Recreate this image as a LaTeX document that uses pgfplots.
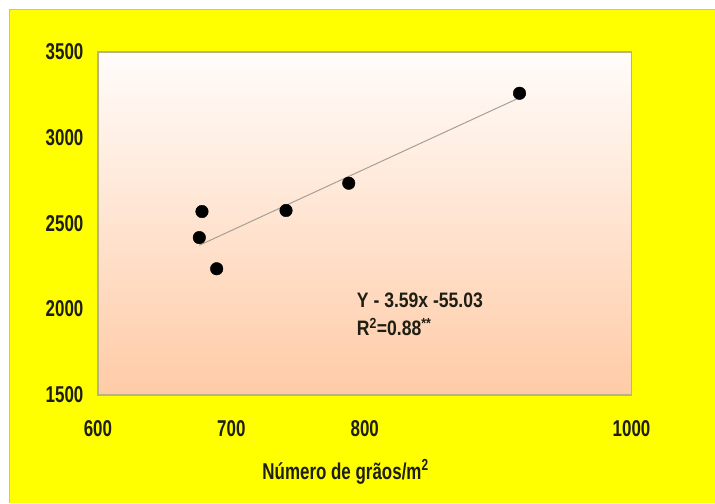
\documentclass[border=0pt]{standalone}
\usepackage{pgfplots}
\pgfplotsset{compat=1.18}
\usepackage{fontspec}
\setmainfont{Liberation Sans}
\newfontfamily\condfont{Liberation Sans}[FakeStretch=0.74]
\newfontfamily\annfont{Liberation Sans}[FakeStretch=0.84]
\definecolor{bgyellow}{RGB}{255,255,0}
\definecolor{topc}{RGB}{255,252,250}
\definecolor{botc}{RGB}{255,203,166}
\definecolor{framec}{RGB}{185,178,130}
\definecolor{txt}{RGB}{30,30,20}
\begin{document}
\begin{tikzpicture}[x=1bp,y=1bp]
\fill[white] (0,0) rectangle (715,503);
\fill[bgyellow] (10,0) rectangle (715,493);
\draw[color={rgb,255:red,215;green,215;blue,0}, line width=1bp] (10,0) -- (10,493) -- (715,493);
\begin{axis}[
  at={(98bp,108bp)}, anchor=south west,
  scale only axis, width=534bp, height=343bp,
  xmin=600, xmax=1000, ymin=1500, ymax=3500,
  xtick={600,700,800,1000}, ytick={1500,2000,2500,3000,3500},
  major tick length=0pt, minor tick num=0,
  axis line style={draw=framec, line width=1.8bp},
  axis background/.style={top color=topc, bottom color=botc},
  /pgf/number format/assume math mode=true,
  /pgf/number format/set thousands separator={},
  tick label style={font=\condfont\bfseries\fontsize{23}{27}\selectfont, text=txt},
  yticklabel style={xshift=-11bp},
  xticklabel style={yshift=-22bp},
  xlabel={Número de grãos/m\textsuperscript{2}},
  xlabel style={at={(axis description cs:0.464,0)}, anchor=center, yshift=-77bp,
    font=\condfont\bfseries\fontsize{23}{27}\selectfont, text=txt},
  clip=false,
]
\addplot[color={rgb,255:red,165;green,160;blue,150}, line width=1bp] coordinates {(676,2372) (916,3233)};
\addplot[only marks, mark=*, mark size=6.3bp, color=black] coordinates {
(678,2569) (676,2417) (689,2235) (741,2575) (788,2734) (916,3259)};
\node[anchor=west, inner sep=0pt, text=txt, font=\annfont\bfseries\fontsize{21}{24}\selectfont] at (axis cs:794,2048) {Y - 3.59x -55.03};
\node[anchor=west, inner sep=0pt, text=txt, font=\annfont\bfseries\fontsize{21}{24}\selectfont] at (axis cs:794,1896) {R\textsuperscript{2}=0.88\textsuperscript{**}};
\end{axis}
\end{tikzpicture}
\end{document}
